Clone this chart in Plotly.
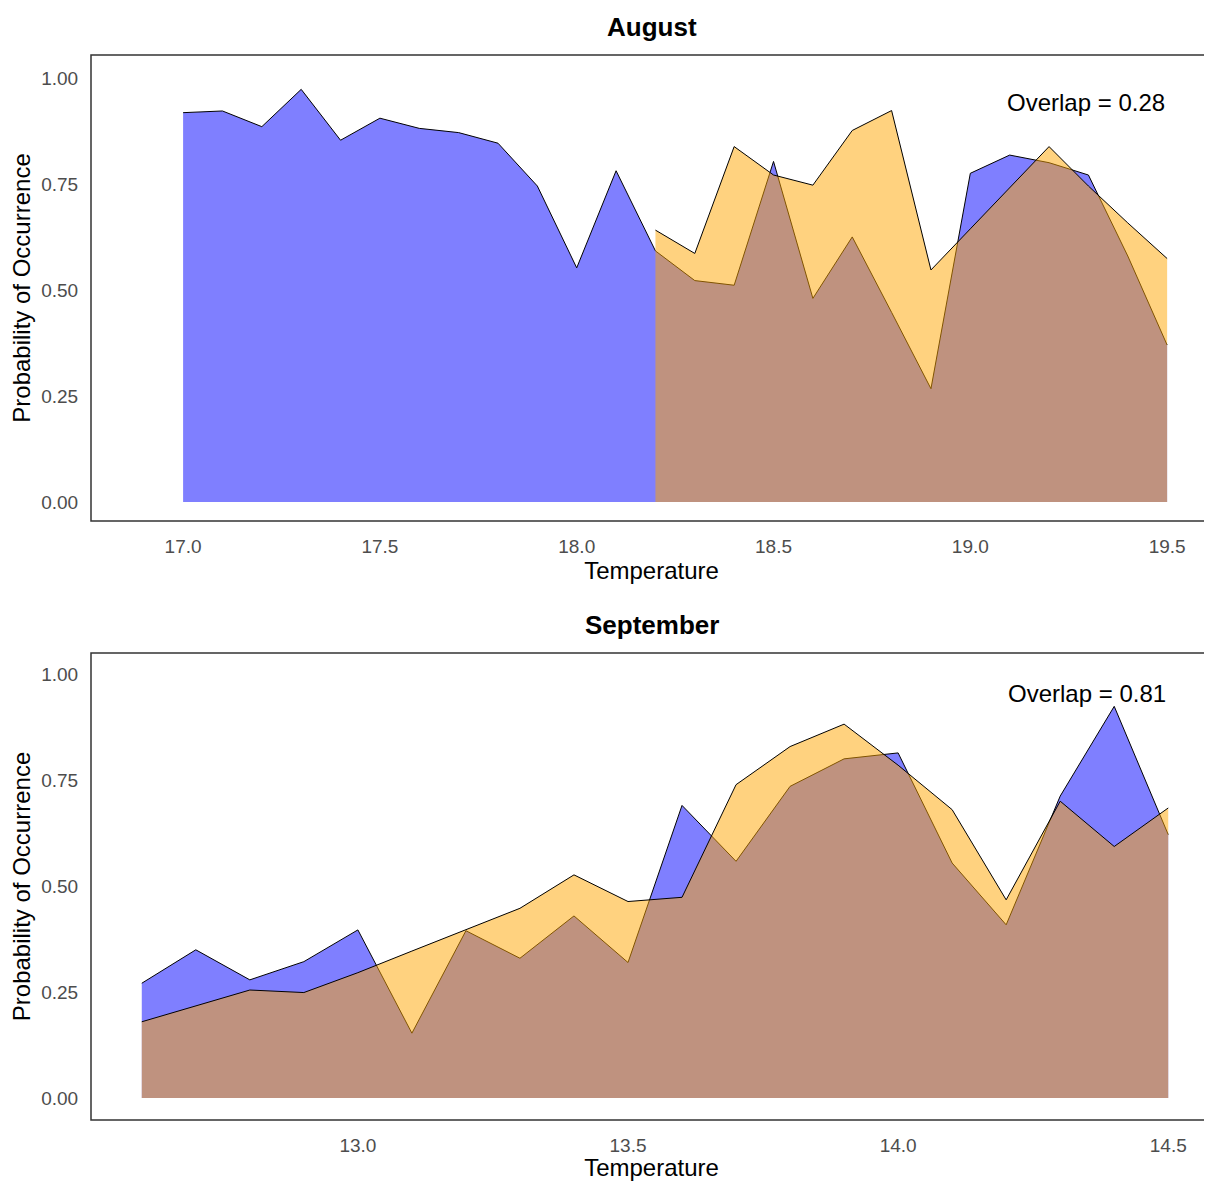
import plotly.graph_objects as go

# ---------------- data ----------------
aug_blue_x = [17.0, 17.1, 17.2, 17.3, 17.4, 17.5, 17.6, 17.7, 17.8, 17.9, 18.0, 18.1, 18.2,
              18.3, 18.4, 18.5, 18.6, 18.7, 18.8, 18.9, 19.0, 19.1, 19.2, 19.3, 19.4, 19.5]
aug_blue_y = [0.918, 0.922, 0.885, 0.973, 0.853, 0.905, 0.881, 0.871, 0.846, 0.745, 0.552, 0.781, 0.592,
              0.522, 0.511, 0.803, 0.480, 0.625, 0.447, 0.267, 0.775, 0.818, 0.800, 0.771, 0.580, 0.370]
aug_orange_x = [18.2, 18.3, 18.4, 18.5, 18.6, 18.7, 18.8, 18.9, 19.0, 19.1, 19.2, 19.3, 19.4, 19.5]
aug_orange_y = [0.641, 0.586, 0.838, 0.771, 0.747, 0.876, 0.923, 0.547, 0.644, 0.741, 0.838, 0.745, 0.658, 0.574]

sep_x = [12.6, 12.7, 12.8, 12.9, 13.0, 13.1, 13.2, 13.3, 13.4, 13.5,
         13.6, 13.7, 13.8, 13.9, 14.0, 14.1, 14.2, 14.3, 14.4, 14.5]
sep_blue_y = [0.271, 0.350, 0.279, 0.322, 0.397, 0.153, 0.395, 0.330, 0.430, 0.320,
              0.691, 0.559, 0.736, 0.801, 0.815, 0.555, 0.409, 0.713, 0.925, 0.622]
sep_orange_y = [0.180, 0.218, 0.255, 0.249, 0.296, 0.347, 0.397, 0.448, 0.527, 0.464,
                0.474, 0.740, 0.830, 0.883, 0.786, 0.681, 0.468, 0.701, 0.594, 0.685]

aug_ticks = [17.0, 17.5, 18.0, 18.5, 19.0, 19.5]
sep_ticks = [13.0, 13.5, 14.0, 14.5]
y_ticks = [0.0, 0.25, 0.5, 0.75, 1.0]
panel_titles = ["August", "September"]
overlap_labels = ["Overlap = 0.28", "Overlap = 0.81"]

# ---------------- figure ----------------
OFF = 8                      # page body margin in the browser
PAGE_W, PAGE_H = 1212, 1181
W, H = PAGE_W - OFF, PAGE_H - OFF
FONT = "Liberation Sans, Arial, sans-serif"
BLUE_FILL = "rgba(0,0,255,0.5)"
ORANGE_FILL = "rgba(255,165,0,0.5)"

fig = go.Figure()

def area(x, y, fill, xa, ya):
    fig.add_trace(go.Scatter(x=x, y=y, mode="lines", fill="tozeroy", fillcolor=fill,
                             line=dict(color="black", width=1), xaxis=xa, yaxis=ya,
                             showlegend=False, hoverinfo="skip"))

area(aug_blue_x, aug_blue_y, BLUE_FILL, "x", "y")
area(aug_orange_x, aug_orange_y, ORANGE_FILL, "x", "y")
area(sep_x, sep_blue_y, BLUE_FILL, "x2", "y2")
area(sep_x, sep_orange_y, ORANGE_FILL, "x2", "y2")

def px_x(p):
    return (p - OFF) / W

def px_y(p):
    return 1 - (p - OFF) / H

xdom = [px_x(91), 1.0]
dom1 = [px_y(521), px_y(55)]
dom2 = [px_y(1120), px_y(653)]

tickfont = dict(family=FONT, size=19, color="#4D4D4D")
titlefont = dict(family=FONT, size=24, color="black")

def xaxis(rng, ticks, anchor):
    return dict(domain=xdom, range=rng, anchor=anchor, tickmode="array", tickvals=ticks,
                ticktext=[f"{t:.1f}" for t in ticks], showgrid=False, zeroline=False,
                showline=False, ticks="outside", ticklen=8, tickcolor="rgba(0,0,0,0)",
                tickfont=tickfont, title=dict(text="Temperature", font=titlefont, standoff=6))

def yaxis(rng, dom, anchor):
    return dict(domain=dom, range=rng, anchor=anchor, tickmode="array", tickvals=y_ticks,
                ticktext=[f"{t:.2f}" for t in y_ticks], showgrid=False, zeroline=False,
                showline=False, ticks="outside", ticklen=8, tickcolor="rgba(0,0,0,0)",
                tickfont=tickfont,
                title=dict(text="Probability of Occurrence", font=titlefont, standoff=3))

fig.update_layout(
    width=W, height=H, margin=dict(l=0, r=0, t=0, b=0),
    paper_bgcolor="white", plot_bgcolor="white",
    font=dict(family=FONT),
    xaxis=xaxis([16.766, 19.614], aug_ticks, "y"),
    yaxis=yaxis([-0.045, 1.054], dom1, "x"),
    xaxis2=xaxis([12.506, 14.581], sep_ticks, "y2"),
    yaxis2=yaxis([-0.052, 1.051], dom2, "x2"),
)

# panel frames (right edge falls outside the picture, as in the reference)
for dom in (dom1, dom2):
    fig.add_shape(type="rect", xref="paper", yref="paper", x0=xdom[0], x1=1.01,
                  y0=dom[0], y1=dom[1], line=dict(color="#333333", width=1.5),
                  fillcolor="rgba(0,0,0,0)", layer="above")

# titles
for title, dom in zip(panel_titles, (dom1, dom2)):
    fig.add_annotation(text=f"<b>{title}</b>", xref="paper", yref="paper",
                       x=(xdom[0] + 1.0) / 2, y=dom[1], yshift=28, xanchor="center",
                       yanchor="middle", showarrow=False,
                       font=dict(family=FONT, size=26, color="black"))

# overlap labels
fig.add_annotation(text=overlap_labels[0], x=19.5, y=0.943, xref="x", yref="y",
                   xanchor="right", yanchor="middle", showarrow=False,
                   font=dict(family=FONT, size=24, color="black"))
fig.add_annotation(text=overlap_labels[1], x=14.5, y=0.955, xref="x2", yref="y2",
                   xanchor="right", yanchor="middle", showarrow=False,
                   font=dict(family=FONT, size=24, color="black"))

fig.write_html("out.html")
